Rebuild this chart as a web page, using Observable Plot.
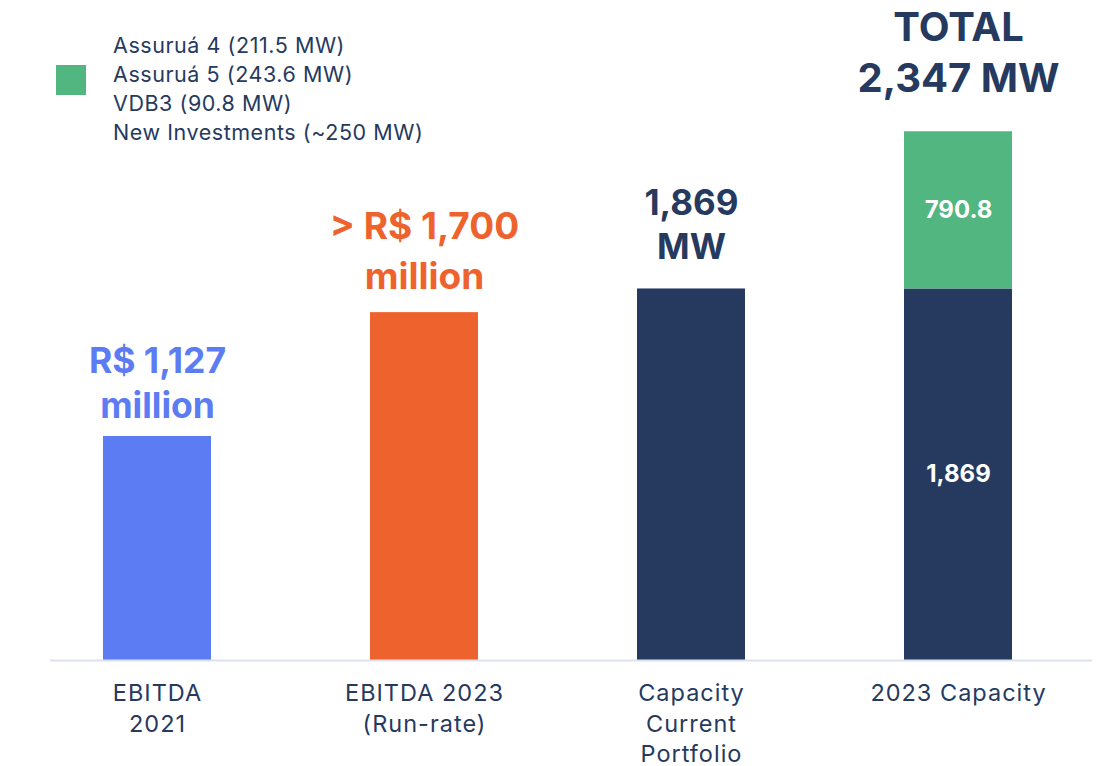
<!DOCTYPE html>
<html>
<head>
<meta charset="utf-8">
<script src="https://cdn.jsdelivr.net/npm/d3@7"></script>
<script src="https://cdn.jsdelivr.net/npm/@observablehq/plot@0.6"></script>
<style>
  html, body { margin: 0; padding: 0; background: #fff; }
  #wrap { position: relative; width: 1102px; height: 766px; font-family: Inter, "DejaVu Sans", sans-serif; }
  #legend { position: absolute; left: 56px; top: 31px; color: #263a5f; font-size: 21.5px; letter-spacing: 0.55px; }
  #legend .row { display: flex; align-items: flex-start; }
  #legend .sw { width: 30px; height: 30px; background: #52b680; margin-right: 27px; margin-top: 34px; flex: none; }
  #legend .lines div { height: 29px; line-height: 29px; }
  #chart g[aria-label="x-axis tick label"] text { letter-spacing: 1px; }
</style>
</head>
<body>
<div id="wrap"><div id="chart"></div><div id="legend"></div></div>
<script>
// ---- data ----
const categories = ["EBITDA 2021", "EBITDA 2023 (Run-rate)", "Capacity Current Portfolio", "2023 Capacity"];
const tickLabels = ["EBITDA\n2021", "EBITDA 2023\n(Run-rate)", "Capacity\nCurrent\nPortfolio", "2023 Capacity"];
const baseValues = [1127, 1750, 1869, 1869];
const addedValues = [0, 0, 0, 790.8];
const baseColors = ["#5b7cf2", "#ee632d", "#263a5f", "#263a5f"];
const addedColor = "#52b680";
const topLabels = ["R$ 1,127\nmillion", "> R$ 1,700\nmillion", "1,869\nMW", "TOTAL\n2,347 MW"];
const insideBaseLabels = ["", "", "", "1,869"];
const insideAddedLabels = ["", "", "", "790.8"];
const legendLines = ["Assuruá 4 (211.5 MW)", "Assuruá 5 (243.6 MW)", "VDB3 (90.8 MW)", "New Investments (~250 MW)"];

// ---- tables ----
const segs = [];
categories.forEach((c, i) => {
  segs.push({cat: c, value: baseValues[i], color: baseColors[i], label: insideBaseLabels[i], y0: 0});
  if (addedValues[i] > 0) segs.push({cat: c, value: addedValues[i], color: addedColor, label: insideAddedLabels[i], y0: baseValues[i]});
});
const tops = categories.map((c, i) => ({cat: c, total: baseValues[i] + addedValues[i], label: topLabels[i], color: baseColors[i]}));

const topStyle = [
  {dy: -18, fontSize: 35.5, lineHeight: 1.27},
  {dy: -24, fontSize: 37, lineHeight: 1.33},
  {dy: -29.5, fontSize: 35, lineHeight: 1.26},
  {dy: -40, fontSize: 40, lineHeight: 1.28}
];

const chart = Plot.plot({
  width: 1102,
  height: 766,
  marginTop: 4,
  marginBottom: 106,
  marginLeft: 50,
  marginRight: 10,
  style: {fontFamily: "Inter, 'DejaVu Sans', sans-serif", background: "#fff"},
  x: {domain: categories, paddingInner: 0.597, paddingOuter: 0.2426, align: 0.4, label: null},
  y: {domain: [0, 3300], axis: null},
  color: {type: "identity"},
  marks: [
    Plot.barY(segs, {x: "cat", y1: "y0", y2: d => d.y0 + d.value, fill: "color"}),
    Plot.ruleY([0], {stroke: "#dde1ef", strokeWidth: 2}),
    Plot.text(segs, {x: "cat", y: d => d.y0 + d.value / 2, text: "label", fill: "white", fontSize: 24, fontWeight: 700}),
    ...tops.map((t, i) => Plot.text([t], {
      x: "cat", y: "total", text: "label", fill: "color",
      fontWeight: 700, lineAnchor: "bottom",
      dy: topStyle[i].dy, fontSize: topStyle[i].fontSize, lineHeight: topStyle[i].lineHeight
    })),
    Plot.axisX({
      tickSize: 0, tickPadding: 19, fontSize: 23.5, lineHeight: 1.3, fill: "#263a5f",
      tickFormat: d => tickLabels[categories.indexOf(d)], label: null
    })
  ]
});
document.getElementById("chart").appendChild(chart);

const legend = document.getElementById("legend");
const row = document.createElement("div"); row.className = "row";
const sw = document.createElement("div"); sw.className = "sw";
const lines = document.createElement("div"); lines.className = "lines";
legendLines.forEach(t => { const d = document.createElement("div"); d.textContent = t; lines.appendChild(d); });
row.appendChild(sw); row.appendChild(lines); legend.appendChild(row);
</script>
</body>
</html>
